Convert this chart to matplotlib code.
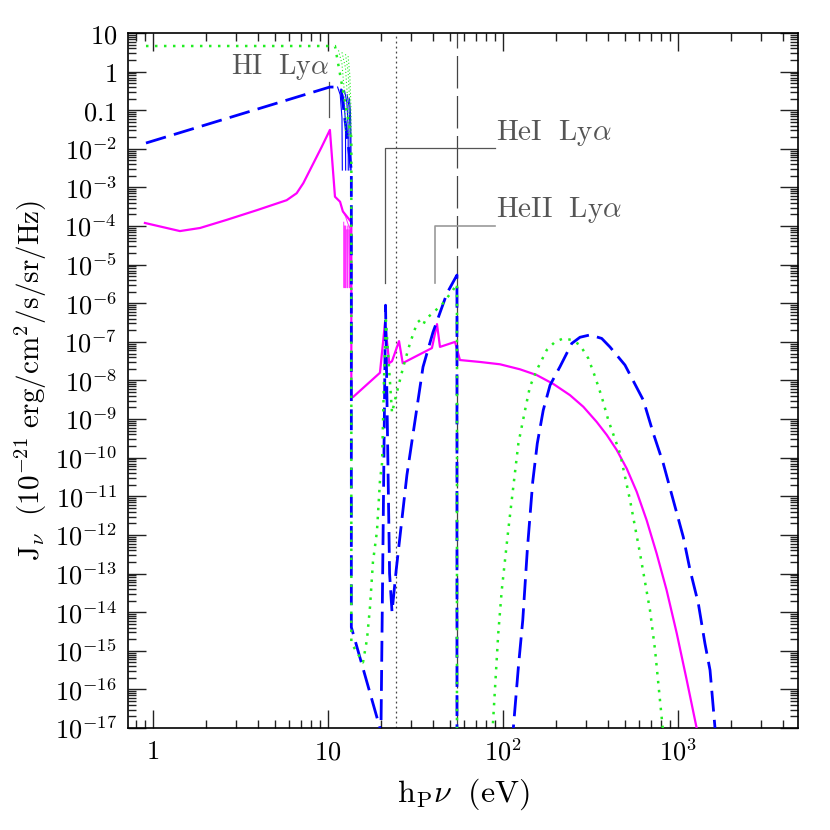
import numpy as np
import matplotlib
matplotlib.use("Agg")
import matplotlib.pyplot as plt
from matplotlib.ticker import LogLocator, FixedLocator, FuncFormatter, NullFormatter

plt.rcParams['mathtext.fontset'] = 'cm'
plt.rcParams['font.family'] = ['DejaVu Serif']

# ---------------- data (log10 E [eV], log10 J) ----------------
# magenta solid
mag_logE = [-0.046, 0.154, 0.269, 0.421, 0.593, 0.764, 0.821, 0.859, 0.916, 0.964,
            1.011, 1.04, 1.069, 1.085,
            1.1335, 1.1335, 1.143, 1.297, 1.326, 1.35, 1.366, 1.406, 1.427, 1.594,
            1.623, 1.64, 1.726, 1.754, 1.869, 1.983, 2.097, 2.193, 2.288, 2.383,
            2.459, 2.535, 2.593, 2.65, 2.707, 2.764, 2.821, 2.878, 2.935, 2.993,
            3.05, 3.107, 3.13]
mag_logJ = [-3.92, -4.13, -4.05, -3.84, -3.59, -3.33, -3.15, -2.89, -2.38, -1.95,
            -1.51, -3.24, -3.37, -3.62,
            -3.9, -8.43, -8.43, -7.8, -6.5, -7.55, -7.5, -6.98, -7.55, -7.16,
            -6.54, -7.13, -7.0, -7.47, -7.52, -7.58, -7.71, -7.86, -8.09, -8.38,
            -8.68, -9.07, -9.41, -9.80, -10.28, -10.88, -11.62, -12.48, -13.43, -14.55,
            -15.76, -17.01, -18.0]

# blue long-dashed
blue_logE = [-0.04, 1.01, 1.055, 1.075,
             1.1335, 1.1335, 1.297, 1.30, 1.303, 1.303, 1.329, 1.352, 1.366, 1.39,
             1.451, 1.543, 1.6, 1.68, 1.737, 1.737, 1.9,
             2.04, 2.059, 2.088, 2.113, 2.139, 2.17, 2.196, 2.23, 2.269, 2.326, 2.393,
             2.44, 2.497, 2.564, 2.611, 2.697, 2.802, 2.859, 2.916, 2.973, 3.03,
             3.069, 3.116, 3.154, 3.183, 3.211, 3.23]
blue_logJ = [-1.85, -0.40, -0.40, -0.45,
             -2.55, -14.39, -17.0, -18.0, -18.0, -17.0, -6.05, -13.0, -14.0, -12.9,
             -10.45, -7.65, -6.75, -5.74, -5.27, -18.0, -18.0,
             -18.0, -17.01, -15.42, -14.21, -12.39, -10.62, -9.63, -8.77, -8.12, -7.64, -7.04,
             -6.88, -6.82, -6.91, -7.13, -7.6, -8.51, -9.37, -10.15, -11.1, -12.05,
             -12.91, -13.77, -14.81, -15.5, -16.97, -18.0]

# green dotted
green_logE = [-0.04, 1.04,
              1.1335, 1.1335, 1.2, 1.223, 1.24, 1.257, 1.28, 1.297, 1.309, 1.32, 1.331,
              1.366, 1.383, 1.43, 1.469, 1.51, 1.526, 1.545, 1.56, 1.6, 1.657, 1.714,
              1.737, 1.737, 1.9,
              1.93, 1.941, 1.973, 1.993, 2.03, 2.05, 2.088, 2.126, 2.154, 2.193, 2.25,
              2.297, 2.345, 2.393, 2.44, 2.488, 2.526, 2.564, 2.602, 2.669, 2.726,
              2.783, 2.84, 2.869, 2.897, 2.913, 2.93]
green_logJ = [0.663, 0.663,
              -1.7, -14.8, -15.3, -14.7, -13.87, -12.7, -11.9, -10.6, -10.14, -8.0, -6.44,
              -8.84, -8.5, -7.65, -7.03, -6.5, -6.44, -6.55, -6.4, -6.25, -6.0, -5.66,
              -5.5, -18.0, -18.0,
              -18.0, -17.01, -14.55, -13.43, -11.88, -11.1, -9.63, -8.77, -8.16, -7.73, -7.21,
              -7.0, -6.91, -6.95, -7.08, -7.43, -7.9, -8.42, -9.03, -9.89, -11.1,
              -12.48, -13.95, -14.98, -16.28, -17.01, -18.0]

# thin Lyman-series features between Ly-alpha and the Lyman edge
blue_lines_logE = [[1.055, 1.07, 1.08, 1.082], [1.075, 1.09, 1.10, 1.101],
                   [1.095, 1.108, 1.115, 1.116], [1.11, 1.12, 1.126, 1.127],
                   [1.122, 1.128, 1.131, 1.132]]
blue_lines_logJ = [[-0.40, -0.6, -1.2, -2.55], [-0.45, -0.7, -1.3, -2.55],
                   [-0.5, -0.8, -1.4, -2.55], [-0.6, -0.9, -1.5, -2.55],
                   [-0.7, -1.0, -1.6, -2.55]]
green_lines_logE = [[1.06, 1.08, 1.095, 1.10], [1.08, 1.10, 1.112, 1.116],
                    [1.10, 1.115, 1.124, 1.127], [1.115, 1.125, 1.131, 1.133]]
green_lines_logJ = [[0.55, 0.2, -0.6, -1.6], [0.5, 0.1, -0.7, -1.7],
                    [0.45, 0.0, -0.8, -1.7], [0.4, -0.1, -0.9, -1.7]]
mag_lines_logE = [[1.085, 1.10, 1.115, 1.13], [1.09, 1.092, 1.094],
                  [1.10, 1.102, 1.105], [1.11, 1.112, 1.115], [1.12, 1.122, 1.125],
                  [1.128, 1.13, 1.132]]
mag_lines_logJ = [[-3.62, -3.75, -3.95, -4.1], [-3.9, -5.6, -4.0],
                  [-4.0, -5.6, -4.1], [-4.0, -5.6, -4.1], [-4.0, -5.6, -4.1],
                  [-4.1, -5.6, -4.2]]

# reference energies (eV)
ref_dotted_E = 24.6
ref_dashed_E = 54.4
lya_E = {'HI': 10.2, 'HeI': 21.2, 'HeII': 40.8}

ytick_exps = list(range(-17, 2))

# ---------------- plot ----------------
fig = plt.figure(figsize=(8.3, 8.3), dpi=100)
ax = fig.add_axes([128/830, 1 - 728/830, 670/830, 695/830])

MAG = '#ff00ff'
BLUE = '#0000ff'
GREEN = '#22ee22'

def p(le, lj):
    return 10.0 ** np.array(le), 10.0 ** np.array(lj)

E, J = p(mag_logE, mag_logJ)
ax.plot(E, J, color=MAG, lw=1.6, zorder=3)
for le, lj in zip(mag_lines_logE, mag_lines_logJ):
    E, J = p(le, lj)
    ax.plot(E, J, color=MAG, lw=0.7, alpha=0.8, zorder=3)

E, J = p(blue_logE, blue_logJ)
ax.plot(E, J, color=BLUE, lw=2.0, dashes=(7.5, 3), zorder=4)
for le, lj in zip(blue_lines_logE, blue_lines_logJ):
    E, J = p(le, lj)
    ax.plot(E, J, color=BLUE, lw=0.8, zorder=4)

E, J = p(green_logE, green_logJ)
ax.plot(E, J, color=GREEN, lw=1.8, dashes=(1, 2.6), zorder=5)
for le, lj in zip(green_lines_logE, green_lines_logJ):
    E, J = p(le, lj)
    ax.plot(E, J, color=GREEN, lw=0.8, dashes=(1, 2), zorder=5)

# reference vertical lines
ax.axvline(ref_dotted_E, color='#444444', lw=0.9, ls=(0, (1.5, 2.5)), zorder=1)
ax.axvline(ref_dashed_E, color='#444444', lw=0.9, dashes=(26, 6), zorder=1)

# annotations
gray = '#555555'
def ypix(py):
    return 10 ** (1 - (py - 33) / 38.6)

ax.plot([lya_E['HI'], lya_E['HI']], [ypix(82), ypix(117)], color=gray, lw=0.9)
ax.text(lya_E['HI'] * 0.99, ypix(67), r'$\mathrm{HI\ \ Ly}\alpha$', color=gray,
        fontsize=20, ha='right', va='center')
xtext = 10 ** ((495 - 153) / 175)
ax.plot([lya_E['HeI'], lya_E['HeI'], xtext], [ypix(283), ypix(148), ypix(148)],
        color=gray, lw=0.9)
ax.plot([lya_E['HeII'], lya_E['HeII'], xtext], [ypix(283), ypix(226), ypix(226)],
        color='#999999', lw=1.2)
ax.text(xtext * 1.01, ypix(133), r'$\mathrm{HeI\ \ Ly}\alpha$',
        color=gray, fontsize=21, ha='left', va='center')
ax.text(xtext * 1.01, ypix(210), r'$\mathrm{HeII\ \ Ly}\alpha$',
        color=gray, fontsize=21, ha='left', va='center')

ax.set_xscale('log')
ax.set_yscale('log')
ax.set_xlim(0.72, 4850)
ax.set_ylim(1e-17, 10)

def yfmt(v, pos):
    e = int(round(np.log10(v)))
    if e == 1:
        return r'$10$'
    if e == 0:
        return r'$1$'
    if e == -1:
        return r'$0.1$'
    return r'$10^{%d}$' % e

def xfmt(v, pos):
    e = int(round(np.log10(v)))
    if e == 0:
        return r'$1$'
    if e == 1:
        return r'$10$'
    return r'$10^{%d}$' % e

ax.yaxis.set_major_locator(FixedLocator([10.0 ** e for e in ytick_exps]))
ax.yaxis.set_major_formatter(FuncFormatter(yfmt))
ax.yaxis.set_minor_locator(LogLocator(base=10, subs=np.arange(2, 10), numticks=100))
ax.yaxis.set_minor_formatter(NullFormatter())
ax.xaxis.set_major_locator(LogLocator(base=10, numticks=20))
ax.xaxis.set_major_formatter(FuncFormatter(xfmt))
ax.xaxis.set_minor_locator(LogLocator(base=10, subs=np.arange(2, 10), numticks=100))
ax.xaxis.set_minor_formatter(NullFormatter())

ax.tick_params(which='both', direction='in', top=True, right=True, width=1.0, color='#222222')
ax.tick_params(which='major', length=13, labelsize=19, pad=8)
ax.tick_params(which='minor', length=6)
for s in ax.spines.values():
    s.set_linewidth(1.2)

ax.set_xlabel(r'$\mathrm{h_P}\nu\ \ (\mathrm{eV})$', fontsize=23, labelpad=8)
ax.set_ylabel(r'$\mathrm{J}_\nu\ \ (10^{-21}\ \mathrm{erg/cm^2/s/sr/Hz})$', fontsize=21, labelpad=4)

fig.savefig('out.png', dpi=100)
